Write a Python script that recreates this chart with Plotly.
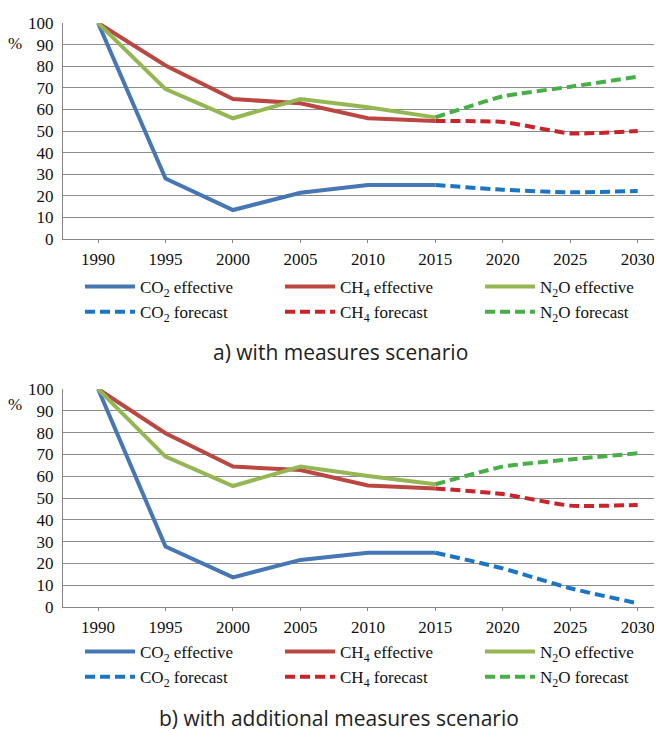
import plotly.graph_objects as go

years_eff = [1990, 1995, 2000, 2005, 2010, 2015]
years_fc = [2015, 2020, 2025, 2030]
tick_years = [1990, 1995, 2000, 2005, 2010, 2015, 2020, 2025, 2030]
y_ticks = [0, 10, 20, 30, 40, 50, 60, 70, 80, 90, 100]

# a) with measures scenario
a_co2_eff = [100, 28.0, 13.4, 21.4, 25.0, 25.0]
a_ch4_eff = [100, 80.3, 64.8, 62.8, 55.9, 54.6]
a_n2o_eff = [100, 69.4, 55.9, 64.8, 61.0, 56.3]
a_co2_fc = [25.0, 22.8, 21.6, 22.2]
a_ch4_fc = [54.6, 54.2, 48.9, 50.0]
a_n2o_fc = [56.3, 66.0, 70.5, 75.1]

# b) with additional measures scenario
b_co2_eff = [100, 27.7, 13.6, 21.6, 24.9, 24.9]
b_ch4_eff = [100, 79.7, 64.4, 62.8, 55.7, 54.4]
b_n2o_eff = [100, 69.0, 55.5, 64.4, 60.1, 56.3]
b_co2_fc = [24.9, 17.7, 8.6, 1.7]
b_ch4_fc = [54.4, 51.8, 46.5, 46.8]
b_n2o_fc = [56.3, 64.4, 67.7, 70.5]

names = ["CO<sub>2</sub> effective", "CH<sub>4</sub> effective", "N<sub>2</sub>O effective",
         "CO<sub>2</sub> forecast", "CH<sub>4</sub> forecast", "N<sub>2</sub>O forecast"]
colors = ["#4677B4", "#BB4743", "#95B753", "#1C74C4", "#C8242B", "#48AE48"]

# the page body has an 8px default margin: figure is sized to end at the window edge
OFF = 8
W, H = 662 - OFF, 731 - OFF
SERIF = "Liberation Serif"
SANS = "Open Sans"

def fx(px):
    return (px - OFF) / W

def fy(px):
    return 1 - (px - OFF) / H

fig = go.Figure()

panels = [
    ("x", "y", "legend", [a_co2_eff, a_ch4_eff, a_n2o_eff], [a_co2_fc, a_ch4_fc, a_n2o_fc]),
    ("x2", "y2", "legend2", [b_co2_eff, b_ch4_eff, b_n2o_eff], [b_co2_fc, b_ch4_fc, b_n2o_fc]),
]

for xa, ya, lg, effs, fcs in panels:
    for i, vals in enumerate(effs):
        fig.add_trace(go.Scatter(x=years_eff, y=vals, mode="lines", name=names[i],
                                 line=dict(color=colors[i], width=4),
                                 xaxis=xa, yaxis=ya, legend=lg, hoverinfo="skip"))
    for i, vals in enumerate(fcs):
        fig.add_trace(go.Scatter(x=years_fc, y=vals, mode="lines", name=names[3 + i],
                                 line=dict(color=colors[3 + i], width=4, dash="10px,5px",
                                           shape="spline", smoothing=0.5),
                                 xaxis=xa, yaxis=ya, legend=lg, hoverinfo="skip"))

tickfont = dict(family=SERIF, size=17, color="#111")

axis_common_x = dict(range=[1987.4, 2031.8], tickmode="array", tickvals=tick_years,
                     ticktext=[str(t) for t in tick_years], showgrid=False, zeroline=False,
                     showline=True, linecolor="#868686", linewidth=1, automargin=False,
                     ticks="outside", ticklen=3, tickcolor="#868686", ticklabelstandoff=2,
                     tickfont=tickfont, domain=[fx(63), 1])
axis_common_y = dict(range=[0, 100], tickmode="array", tickvals=y_ticks, showgrid=True,
                     gridcolor="#8C8C8C", gridwidth=1, zeroline=False, showline=True,
                     linecolor="#868686", linewidth=1, ticks="", ticklabelstandoff=5,
                     automargin=False, tickfont=tickfont)

legend_common = dict(orientation="h", x=fx(80), xanchor="left", yanchor="top",
                     entrywidth=135, entrywidthmode="pixels",
                     font=dict(family=SERIF, size=17, color="#111"),
                     bgcolor="rgba(0,0,0,0)", tracegroupgap=0, itemwidth=50)

fig.update_layout(
    width=W, height=H, margin=dict(l=0, r=0, t=0, b=0, autoexpand=False),
    font=dict(family=SERIF, size=17, color="#111"),
    paper_bgcolor="white", plot_bgcolor="white", showlegend=True,
    xaxis=dict(axis_common_x, anchor="y"),
    yaxis=dict(axis_common_y, domain=[fy(239), fy(23)], anchor="x"),
    xaxis2=dict(axis_common_x, anchor="y2"),
    yaxis2=dict(axis_common_y, domain=[fy(607), fy(389)], anchor="x2"),
    legend=dict(legend_common, y=fy(269)),
    legend2=dict(legend_common, y=fy(634)),
    annotations=[
        dict(text="a) with measures scenario", x=fx(340), y=fy(352), xref="paper", yref="paper",
             showarrow=False, xanchor="center", yanchor="middle",
             font=dict(family=SANS, size=21, color="#222")),
        dict(text="b) with additional measures scenario", x=fx(339), y=fy(718), xref="paper", yref="paper",
             showarrow=False, xanchor="center", yanchor="middle",
             font=dict(family=SANS, size=21, color="#222")),
        dict(text="%", x=fx(15), y=fy(43), xref="paper", yref="paper", showarrow=False,
             xanchor="center", yanchor="middle", font=dict(family=SERIF, size=17, color="#111")),
        dict(text="%", x=fx(15), y=fy(404), xref="paper", yref="paper", showarrow=False,
             xanchor="center", yanchor="middle", font=dict(family=SERIF, size=17, color="#111")),
    ],
)

fig.write_html("out.html")
